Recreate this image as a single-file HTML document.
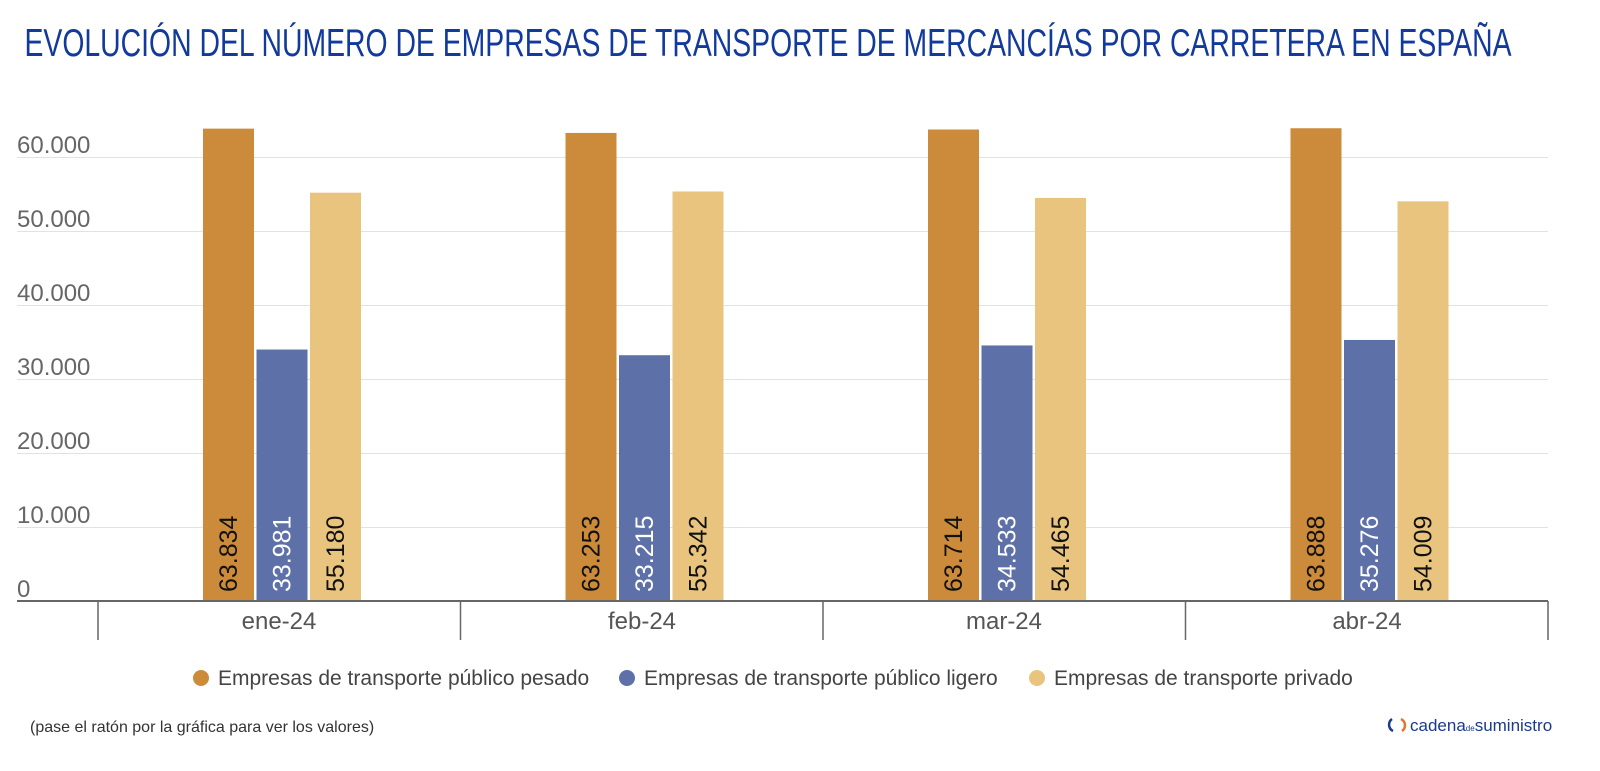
<!DOCTYPE html>
<html><head><meta charset="utf-8"><style>
body{margin:0;background:#fff;width:1600px;height:771px;overflow:hidden}
svg{display:block}
</style></head><body>
<svg width="1600" height="771" xmlns="http://www.w3.org/2000/svg" font-family="Liberation Sans, sans-serif">
<text x="768" y="56" text-anchor="middle" font-family="Liberation Sans Narrow, Liberation Sans, sans-serif" font-size="39" fill="#123a9c" textLength="1487" lengthAdjust="spacingAndGlyphs">EVOLUCIÓN DEL NÚMERO DE EMPRESAS DE TRANSPORTE DE MERCANCÍAS POR CARRETERA EN ESPAÑA</text>
<g stroke="#e2e2e2" stroke-width="1">
<line x1="17" x2="1548" y1="157.5" y2="157.5"/><line x1="17" x2="1548" y1="231.5" y2="231.5"/>
<line x1="17" x2="1548" y1="305.5" y2="305.5"/><line x1="17" x2="1548" y1="379.5" y2="379.5"/>
<line x1="17" x2="1548" y1="453.5" y2="453.5"/><line x1="17" x2="1548" y1="527.5" y2="527.5"/>
</g>
<g font-size="24" fill="#666">
<text x="17" y="153">60.000</text><text x="17" y="227">50.000</text><text x="17" y="301">40.000</text>
<text x="17" y="375">30.000</text><text x="17" y="449">20.000</text><text x="17" y="523">10.000</text><text x="17" y="597">0</text>
</g>
<g id="bars"></g>
<line x1="17" x2="1548" y1="601" y2="601" stroke="#666" stroke-width="2"/>
<g stroke="#666" stroke-width="1.5">
<line x1="98" x2="98" y1="601" y2="640"/><line x1="460.5" x2="460.5" y1="601" y2="640"/>
<line x1="823" x2="823" y1="601" y2="640"/><line x1="1185.5" x2="1185.5" y1="601" y2="640"/><line x1="1548" x2="1548" y1="601" y2="640"/>
</g>
<g font-size="24" fill="#555" text-anchor="middle">
<text x="279" y="629">ene-24</text><text x="642" y="629">feb-24</text><text x="1004" y="629">mar-24</text><text x="1367" y="629">abr-24</text>
</g>
<g font-size="21" fill="#444">
<circle cx="201" cy="678" r="8" fill="#cb8b3b"/><text x="218" y="685">Empresas de transporte público pesado</text>
<circle cx="627" cy="678" r="8" fill="#5e70a8"/><text x="644" y="685">Empresas de transporte público ligero</text>
<circle cx="1037" cy="678" r="8" fill="#e9c47e"/><text x="1054" y="685">Empresas de transporte privado</text>
</g>
<text x="30" y="732" font-size="16" fill="#333">(pase el ratón por la gráfica para ver los valores)</text>
<g transform="translate(1397,725)">
<path d="M-5,-6 A7,7 0 0 0 -4,6" stroke="#1a3a8c" stroke-width="2.5" fill="none"/>
<path d="M5,6 A7,7 0 0 0 4,-6" stroke="#e8732a" stroke-width="2.5" fill="none"/>
</g>
<text x="1410" y="731" font-size="17" fill="#1a3a8c">cadena<tspan font-size="8">de</tspan>suministro</text>
</svg>
<script>
var data=[[63834,33981,55180],[63253,33215,55342],[63714,34533,54465],[63888,35276,54009]];
var cols=['#cb8b3b','#5e70a8','#e9c47e'],tc=['#111','#fff','#111'];
var g=document.getElementById('bars'),s='';
var x0=[98,460.5,823,1185.5];
data.forEach(function(d,i){d.forEach(function(v,j){
var x=x0[i]+105+j*53.5,h=v*0.0074,y=601-h;
s+='<rect x="'+x+'" y="'+y+'" width="51" height="'+h+'" fill="'+cols[j]+'"/>';
var lab=(v/1000).toFixed(3);
s+='<text transform="translate('+(x+34)+',592) rotate(-90)" font-size="25" fill="'+tc[j]+'">'+lab+'</text>';
});});
g.innerHTML=s;
</script>
</body></html>
